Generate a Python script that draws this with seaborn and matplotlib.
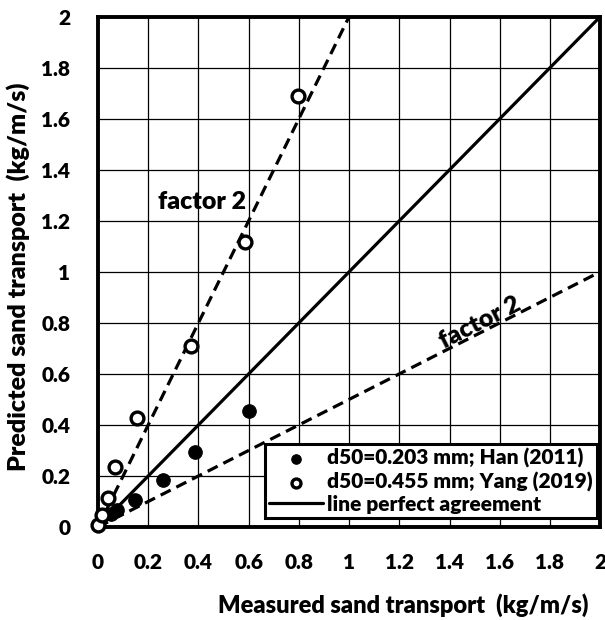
import numpy as np
import pandas as pd
import matplotlib
matplotlib.use("Agg")
import matplotlib.pyplot as plt
import seaborn as sns

han_x = [0.05, 0.076, 0.147, 0.259, 0.386, 0.60]
han_y = [0.05, 0.067, 0.106, 0.184, 0.294, 0.455]
yang_x = [0.0, 0.016, 0.04, 0.068, 0.155, 0.37, 0.586, 0.797]
yang_y = [0.008, 0.047, 0.114, 0.235, 0.427, 0.71, 1.118, 1.69]
perfect_x = [0, 2]
perfect_y = [0, 2]
f2_up_x = [0, 1]
f2_up_y = [0, 2]
f2_lo_x = [0, 2]
f2_lo_y = [0, 1]
ticks = [0, 0.2, 0.4, 0.6, 0.8, 1, 1.2, 1.4, 1.6, 1.8, 2]
tick_labels = ["0", "0.2", "0.4", "0.6", "0.8", "1", "1.2", "1.4", "1.6", "1.8", "2"]

sns.set_style("white")
plt.rcParams['font.family'] = ['Lato', 'DejaVu Sans']
plt.rcParams['font.weight'] = 'heavy'
for k in ['text.color', 'axes.labelcolor', 'xtick.color', 'ytick.color']:
    plt.rcParams[k] = 'black'
W = 'heavy'

fig = plt.figure(figsize=(6.05, 6.2), dpi=100)
ax = fig.add_axes([0.162, 0.15, 0.830, 0.823])

ax.set_xticks(ticks)
ax.set_yticks(ticks)
ax.grid(True, color='black', linewidth=0.9)
ax.set_axisbelow(True)

dash = (0, (3.5, 2.0))
sns.lineplot(x=f2_up_x, y=f2_up_y, ax=ax, color='black', linestyle=dash, linewidth=2.3)
sns.lineplot(x=f2_lo_x, y=f2_lo_y, ax=ax, color='black', linestyle=dash, linewidth=2.3)
sns.lineplot(x=perfect_x, y=perfect_y, ax=ax, color='black', linewidth=2.3,
             label='line perfect agreement')

ax.scatter([0], [0], s=60, color='#5b9bd5', zorder=3, clip_on=False)
sns.scatterplot(x=han_x, y=han_y, ax=ax, color='black', s=95, edgecolor='black',
                label='d50=0.203 mm; Han (2011)', zorder=5, clip_on=False)
sns.scatterplot(x=yang_x, y=yang_y, ax=ax, color='white', s=85, edgecolor='black',
                linewidth=2.4, label='d50=0.455 mm; Yang (2019)', zorder=6, clip_on=False)

ax.set_xlim(0, 2)
ax.set_ylim(0, 2)
ax.set_xticklabels(tick_labels, fontsize=15, fontweight=W)
ax.set_yticklabels(tick_labels, fontsize=15, fontweight=W)
ax.tick_params(axis='x', length=0, pad=19)
ax.tick_params(axis='y', length=0, pad=20)
for s in ax.spines.values():
    s.set_linewidth(2.8)
    s.set_color('black')

ax.set_xlabel("Measured sand transport  (kg/m/s)", fontsize=17, fontweight=W)
ax.set_ylabel("Predicted sand transport  (kg/m/s)", fontsize=18, fontweight=W)
ax.xaxis.set_label_coords(0.607, -0.153)
ax.yaxis.set_label_coords(-0.159, 0.49)
ax.xaxis.label.set_va('center')
ax.yaxis.label.set_va('center')

ax.text(0.414, 1.275, "factor 2", fontsize=18, fontweight=W, ha='center', va='center')
ax.text(1.52, 0.80, "factor 2", fontsize=18, fontweight=W, ha='center', va='center',
        rotation=27, rotation_mode='anchor', zorder=7)

h, l = ax.get_legend_handles_labels()
order = [l.index('d50=0.203 mm; Han (2011)'), l.index('d50=0.455 mm; Yang (2019)'),
         l.index('line perfect agreement')]
leg = ax.legend([h[i] for i in order], [l[i] for i in order], loc='lower right',
                bbox_to_anchor=(0.994, 0.018), frameon=True, fancybox=False,
                edgecolor='black', framealpha=1, prop={'weight': W, 'size': 15},
                handlelength=2.6, handletextpad=0.2, borderpad=0.2, labelspacing=0.15,
                markerscale=0.7, borderaxespad=0)
leg.get_frame().set_linewidth(2.2)
leg.set_zorder(10)

fig.savefig("out.png", dpi=100)
